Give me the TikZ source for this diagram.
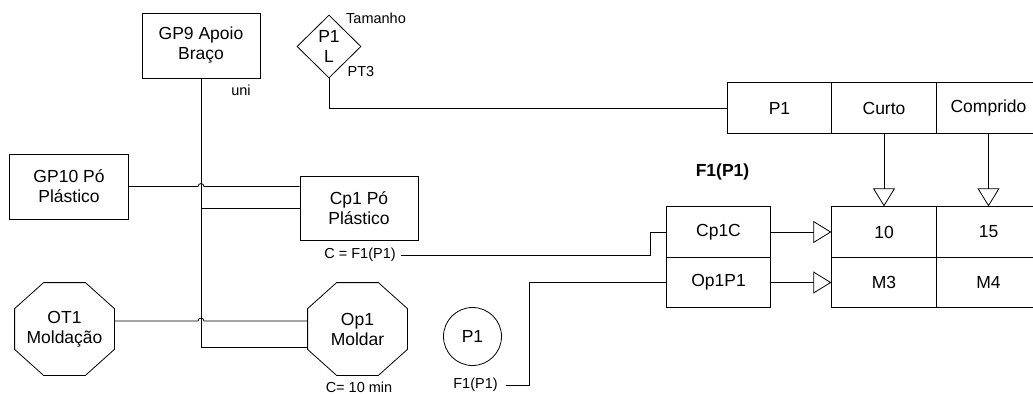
\documentclass[tikz,border=0pt]{standalone}
\usepackage{fontspec}
\setmainfont{Liberation Sans}
\usetikzlibrary{shapes.geometric,arrows.meta,calc}
\newcommand{\octoframe}[1]{\draw ($(#1.north west)+(29,0)$) -- ($(#1.north east)+(-29,0)$) -- ($(#1.north east)+(0,26)$) -- ($(#1.south east)+(0,-26)$) -- ($(#1.south east)+(-29,0)$) -- ($(#1.south west)+(29,0)$) -- ($(#1.south west)+(0,-26)$) -- ($(#1.north west)+(0,26)$) -- cycle;}
\begin{document}
\begin{tikzpicture}[x=1pt,y=-1pt,line width=0.8pt,
  every node/.style={font=\fontsize{17.5}{20}\selectfont, inner sep=0pt, align=center},
  box/.style={draw, minimum width=118pt, minimum height=65pt},
  cell/.style={draw, minimum width=104.5pt, minimum height=50.5pt},
  octo/.style={minimum width=99pt, minimum height=92pt},
  lbl/.style={font=\fontsize{14.5}{17}\selectfont},
  tri/.style={-{Triangle[open,length=18pt,width=22pt]}}
]
\useasboundingbox (0,0) rectangle (1033,394);
\clip (0,0) rectangle (1033,394);
% boxes
\node[box] (gp9) at (201,45.5) {GP9 Apoio\\Braço};
\node[box, minimum width=119pt] (gp10) at (69,186.5) {GP10 Pó\\Plástico};
\node[box, minimum height=64pt] (cp1) at (359,208) {Cp1 Pó\\Plástico};
\node[octo] (ot1) at (64.5,329) {OT1\\Moldação};
\node[octo] (op1) at (357.5,329) {Op1\\Moldar};
\octoframe{ot1}
\octoframe{op1}
\node[draw, circle, minimum size=58pt] (p1c) at (472.5,336.5) {P1};
\node[draw, diamond, minimum width=64pt, minimum height=63pt] (pl) at (329,46.5) {P1\\L};
% tables
\node[cell] (p1cell) at (779.5,108) {P1};
\node[cell] (curto) at (884,108) {Curto};
\node[cell] (comp) at (988.5,108) {Comprido};
\node[cell] (v10) at (884,232) {10};
\node[cell] (v15) at (988.5,232) {15};
\node[cell] (m3) at (884,282.5) {M3};
\node[cell] (m4) at (988.5,282.5) {M4};
\node[cell] (cp1c) at (718.5,232) {Cp1C};
\node[cell] (op1p1) at (718.5,282.5) {Op1P1};
% labels
\node[lbl] (uni) at (241,90) {uni};
\node[lbl] (tam) at (376,18) {Tamanho};
\node[lbl] (pt3) at (361,72) {PT3};
\node[lbl, inner xsep=5pt] (cplab) at (360,255) {C = F1(P1)};
\node[lbl] (oplab) at (359,387) {C= 10 min};
\node[lbl, inner xsep=8pt] (flab) at (475.5,385) {F1(P1)};
\node[font=\bfseries\fontsize{17.5}{20}\selectfont] (ftitle) at (722.5,172) {F1(P1)};
% connectors on the left
\draw (gp9.south) |- ($(op1.west)+(0,18)$);
\draw (cp1.west) -- (cp1.west -| gp9.south);
\draw (gp10.east) -- ($(gp10.east -| gp9.south)+(-3,0)$) arc[start angle=180,end angle=0,radius=3pt] -- (gp10.east -| cp1.west);
\draw ($(ot1.east)+(0,-8)$) -- ($(ot1.east -| gp9.south)+(-3,-8)$) arc[start angle=180,end angle=0,radius=3pt] -- ($(op1.west)+(0,-8)$);
% diamond to table
\draw (pl.south) |- (p1cell.west);
% to the F1 table
\draw (cplab.east) -| ($(cp1c.west)+(-15,0)$) -- (cp1c.west);
\draw (flab.east) -| ($(op1p1.west)+(-136,0)$) -- (op1p1.west);
% arrows
\draw[tri] (curto.south) -- (v10.north);
\draw[tri] (comp.south) -- (v15.north);
\draw[tri] (cp1c.east) -- (v10.west);
\draw[tri] (op1p1.east) -- (m3.west);
\end{tikzpicture}
\end{document}
